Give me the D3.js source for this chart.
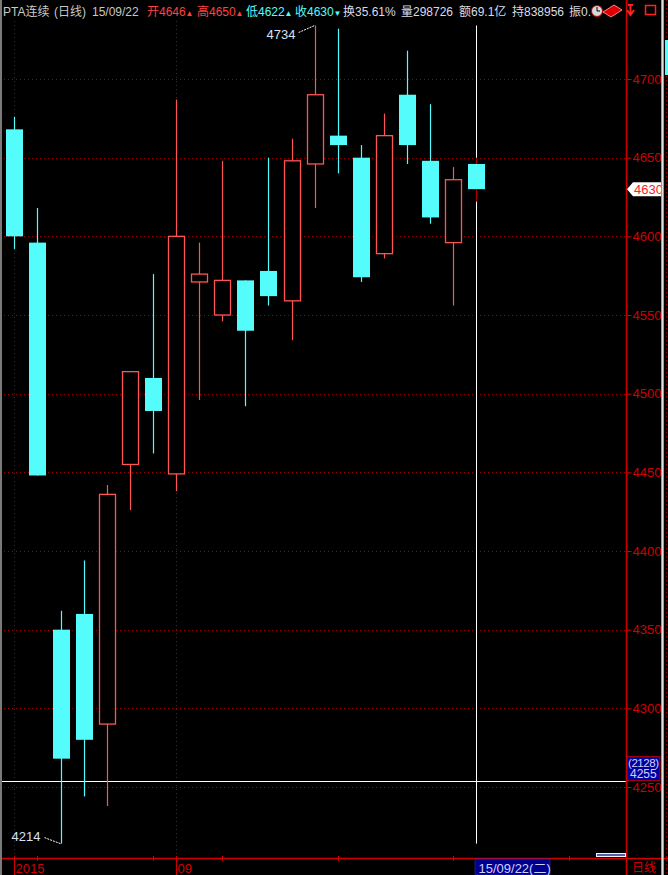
<!DOCTYPE html>
<html><head><meta charset="utf-8">
<script src="https://cdn.jsdelivr.net/npm/d3@7"></script>
<style>html,body{margin:0;padding:0;background:#000;}svg{display:block;}</style>
</head><body>
<script>
// ---- data ----
const dates = ["2015-08-21","2015-08-24","2015-08-25","2015-08-26","2015-08-27","2015-08-28","2015-08-31",
  "2015-09-01","2015-09-02","2015-09-07","2015-09-08","2015-09-09","2015-09-10","2015-09-11",
  "2015-09-14","2015-09-15","2015-09-16","2015-09-17","2015-09-18","2015-09-21","2015-09-22"];
const futureDates = ["2015-09-23","2015-09-24","2015-09-25","2015-09-28","2015-09-29"];
const open  = [4668,4596,4350,4360,4290,4455,4510,4449,4571,4550,4572,4578,4559,4646,4664,4650,4589,4690,4648,4596,4646];
const high  = [4676,4618,4362,4394,4442,4514,4576,4687,4596,4648,4572,4650,4662,4734,4732,4658,4678,4718,4684,4644,4650];
const low   = [4592,4448,4214,4244,4238,4426,4462,4438,4496,4546,4492,4556,4534,4618,4640,4571,4586,4646,4608,4556,4622];
const close = [4600,4448,4268,4280,4436,4514,4489,4600,4576,4572,4540,4562,4648,4690,4658,4574,4664,4658,4612,4636,4630];
const priceTicks = [4250,4300,4350,4400,4450,4500,4550,4600,4650,4700];
const periodLabels = [{idx:0,text:"2015"},{idx:7,text:"09"}];
const crossIndex = 20, crossValue = 4254, crossCount = "(2128)", crossLabel = "4255";
const lastPrice = 4630;
const header = [
  {t:"PTA连续",c:"#c8c8c8",x:3},{t:"(日线)",c:"#c8c8c8",x:54},{t:"15/09/22",c:"#c8c8c8",x:92},
  {t:"开4646",c:"#ff4040",x:147},{t:"▲",c:"#ff4040",x:185.5,s:8},
  {t:"高4650",c:"#ff4040",x:197},{t:"▲",c:"#ff4040",x:235.5,s:8},
  {t:"低4622",c:"#54fcfc",x:246},{t:"▲",c:"#54fcfc",x:284.5,s:8},
  {t:"收4630",c:"#54fcfc",x:295},{t:"▼",c:"#54fcfc",x:333.5,s:8},
  {t:"换35.61%",c:"#d8dce8",x:343},{t:"量298726",c:"#d8dce8",x:401},
  {t:"额69.1亿",c:"#d8dce8",x:459},{t:"持838956",c:"#d8dce8",x:512},{t:"振0.",c:"#d8dce8",x:569}
];

// ---- layout ----
const W = 668, H = 875;
const plotL = 2, plotR = 626, plotT = 21, plotB = 858;
const FONT = "'Liberation Sans','Noto Sans CJK SC',sans-serif";
const UP = "#ff5454", DOWN = "#54fcfc", AXIS = "#d00000", GRID = "#a00000";

const svg = d3.select("body").append("svg").attr("width", W).attr("height", H)
  .style("background", "#000");

const x = d3.scaleLinear().domain([0, 20]).range([14.3, 476.3]);
const y = d3.scaleLinear().domain([4250, 4700]).range([787, 79]);
const bw = 17;

// grid
const g = svg.append("g");
g.selectAll("line.hg").data(priceTicks).join("line")
  .attr("x1", plotL + 2).attr("x2", plotR).attr("y1", d => Math.round(y(d)) + 0.5).attr("y2", d => Math.round(y(d)) + 0.5)
  .attr("stroke", GRID).attr("stroke-dasharray", "1,3");
g.selectAll("line.vg").data(periodLabels).join("line")
  .attr("x1", d => Math.round(x(d.idx)) + 0.5).attr("x2", d => Math.round(x(d.idx)) + 0.5)
  .attr("y1", plotT).attr("y2", plotB)
  .attr("stroke", GRID).attr("stroke-dasharray", "1,3");

// crosshair
const cx = Math.round(x(crossIndex)) + 0.5;
svg.append("line").attr("x1", cx).attr("x2", cx)
  .attr("y1", y(d3.max(high))).attr("y2", y(d3.min(low))).attr("stroke", "#fff");
const cy = Math.round(y(crossValue)) + 0.5;
svg.append("line").attr("x1", plotL).attr("x2", plotR).attr("y1", cy).attr("y2", cy).attr("stroke", "#fff");

// candles
const data = dates.map((d, i) => ({i, o: open[i], h: high[i], l: low[i], c: close[i]}));
const cg = svg.append("g").selectAll("g").data(data).join("g");
cg.append("line")
  .attr("x1", d => Math.round(x(d.i)) + 0.5).attr("x2", d => Math.round(x(d.i)) + 0.5)
  .attr("y1", d => y(d.h)).attr("y2", d => y(d.l))
  .attr("stroke", d => d.i === crossIndex ? "#b00000" : (d.c > d.o ? UP : DOWN))
  .attr("stroke-width", 1.2);
cg.append("rect")
  .attr("x", d => Math.round(x(d.i)) - 8 + (d.c > d.o ? 0.5 : 0))
  .attr("y", d => y(Math.max(d.o, d.c)))
  .attr("width", d => d.c > d.o ? bw - 1 : bw)
  .attr("height", d => Math.max(1, Math.abs(y(d.o) - y(d.c))))
  .attr("fill", d => d.c > d.o ? "#000" : DOWN)
  .attr("stroke", d => d.c > d.o ? UP : "none")
  .attr("stroke-width", 1.3);

// high/low annotations
const hiIdx = d3.maxIndex(high), loIdx = d3.minIndex(low);
const hx = x(hiIdx), hy = y(high[hiIdx]);
svg.append("line").attr("x1", hx - 16).attr("y1", hy + 7).attr("x2", hx).attr("y2", hy)
  .attr("stroke", "#fff").attr("stroke-dasharray", "2,1");
svg.append("text").attr("x", hx - 48).attr("y", hy + 13).text(high[hiIdx])
  .attr("fill", "#d8e0f4").attr("font-family", FONT).attr("font-size", 13);
const lx = x(loIdx), ly = y(low[loIdx]);
svg.append("line").attr("x1", lx - 16).attr("y1", ly - 6).attr("x2", lx).attr("y2", ly)
  .attr("stroke", "#fff").attr("stroke-dasharray", "2,1");
svg.append("text").attr("x", lx - 49).attr("y", ly - 3).text(low[loIdx])
  .attr("fill", "#d8e0f4").attr("font-family", FONT).attr("font-size", 13);

// right axis
const ax = svg.append("g").attr("transform", `translate(${plotR + 0.5},0)`)
  .call(d3.axisRight(y).tickValues(priceTicks).tickSize(5).tickPadding(1).tickFormat(d3.format("d")));
ax.select(".domain").remove();
ax.append("line").attr("x1", 0).attr("x2", 0).attr("y1", 0).attr("y2", H).attr("stroke", AXIS).attr("stroke-width", 1.5);
ax.selectAll(".tick line").attr("stroke", AXIS);
ax.selectAll(".tick text").attr("fill", AXIS).attr("font-family", FONT).attr("font-size", 13);

// last price marker
const py = y(lastPrice);
svg.append("path")
  .attr("d", `M${plotR + 1},${py} L${plotR + 7},${py - 7} L${plotR + 35},${py - 7} L${plotR + 35},${py + 7} L${plotR + 7},${py + 7} Z`)
  .attr("fill", "#fff");
svg.append("text").attr("x", plotR + 8).attr("y", py + 5).text(lastPrice)
  .attr("fill", "#ff2020").attr("font-family", FONT).attr("font-size", 13);

// crosshair value box
svg.append("rect").attr("x", plotR + 1).attr("y", cy - 25).attr("width", 33).attr("height", 24)
  .attr("fill", "#0000a0").attr("stroke", "#c00000").attr("stroke-width", 0.8);
svg.append("text").attr("x", plotR + 2).attr("y", cy - 15).text(crossCount)
  .attr("fill", "#d0d0ff").attr("font-family", FONT).attr("font-size", 11.5).attr("textLength", 31);
svg.append("text").attr("x", plotR + 4).attr("y", cy - 3.5).text(crossLabel)
  .attr("fill", "#d0d0ff").attr("font-family", FONT).attr("font-size", 12);

// bottom axis
svg.append("line").attr("x1", plotL).attr("x2", W).attr("y1", plotB + 0.5).attr("y2", plotB + 0.5)
  .attr("stroke", AXIS).attr("stroke-width", 1.5);
const allDates = dates.concat(futureDates);
const parse = d3.timeParse("%Y-%m-%d");
const mondays = allDates.map((d, i) => ({d: parse(d), i})).filter(o => o.d.getDay() === 1 && x(o.i) < plotR);
svg.selectAll("line.wt").data(mondays).join("line")
  .attr("x1", d => Math.round(x(d.i)) + 0.5).attr("x2", d => Math.round(x(d.i)) + 0.5)
  .attr("y1", plotB - 2).attr("y2", plotB + 3).attr("stroke", AXIS);
svg.selectAll("line.pt").data(periodLabels).join("line")
  .attr("x1", d => Math.round(x(d.idx)) + 0.5).attr("x2", d => Math.round(x(d.idx)) + 0.5)
  .attr("y1", plotB - 2).attr("y2", H).attr("stroke", AXIS);
svg.selectAll("text.pl").data(periodLabels).join("text")
  .attr("x", d => Math.round(x(d.idx)) + 1.5).attr("y", 873).text(d => d.text)
  .attr("fill", AXIS).attr("font-family", FONT).attr("font-size", 13);

// date box
const fmt = d3.timeFormat("%y/%m/%d");
const wk = ["日","一","二","三","四","五","六"];
const cd = parse(dates[crossIndex]);
svg.append("rect").attr("x", cx - 1.5).attr("y", plotB + 1).attr("width", 75).attr("height", 16).attr("fill", "#000090")
  .attr("stroke", "#3030c0").attr("stroke-width", 0.6);
svg.append("text").attr("x", cx + 2).attr("y", 873).text(fmt(cd) + "(" + wk[cd.getDay()] + ")")
  .attr("fill", "#d0d0ff").attr("font-family", FONT).attr("font-size", 13);
svg.append("text").attr("x", plotR + 6).attr("y", 872).text("日线")
  .attr("fill", AXIS).attr("font-family", "'Noto Sans CJK SC',sans-serif").attr("font-size", 12);

// scrollbar piece
svg.append("rect").attr("x", 596.5).attr("y", 853.5).attr("width", 29).attr("height", 3)
  .attr("fill", "#5060a0").attr("stroke", "#f0f0ff");

// borders
svg.append("rect").attr("x", 0).attr("y", 0).attr("width", 2).attr("height", H).attr("fill", "#7a7a7a");
svg.append("rect").attr("x", 661).attr("y", 0).attr("width", 3).attr("height", H).attr("fill", "#9a9a9a");
svg.append("rect").attr("x", 662).attr("y", 0).attr("width", 1).attr("height", H).attr("fill", "#e0e0e0");
svg.append("line").attr("x1", 666.5).attr("x2", 666.5).attr("y1", 0).attr("y2", H)
  .attr("stroke", GRID).attr("stroke-dasharray", "1,3");
svg.append("rect").attr("x", 665).attr("y", 40).attr("width", 3).attr("height", 35).attr("fill", DOWN);

// header
const ht = svg.append("g").attr("font-family", "'Liberation Sans','Noto Sans CJK SC',sans-serif");
ht.selectAll("text").data(header).join("text")
  .attr("x", d => d.x).attr("y", 16).text(d => d.t)
  .attr("fill", d => d.c).attr("font-size", d => d.s || 12);
// icons
const ic = svg.append("g");
ic.append("circle").attr("cx", 597).attr("cy", 11).attr("r", 5.5).attr("fill", "#d8d8d8").attr("stroke", "#c00000");
ic.append("path").attr("d", "M597,7 L597,11 L600,11").attr("stroke", "#000").attr("fill", "none");
ic.append("path").attr("d", "M603,12 L614,5 L622,10 L611,17 Z").attr("fill", "#e00000").attr("stroke", "#ff8080");
ic.append("path").attr("d", "M628,5 L633,5 M630.5,5 L630.5,14 M627,10 L630.5,15 L634,10").attr("stroke", "#ff2020").attr("stroke-width", 2).attr("fill", "none");
ic.append("rect").attr("x", 645.5).attr("y", 5.5).attr("width", 10).attr("height", 9).attr("fill", "none").attr("stroke", "#ff2020").attr("stroke-width", 1.5);
</script>
</body></html>
